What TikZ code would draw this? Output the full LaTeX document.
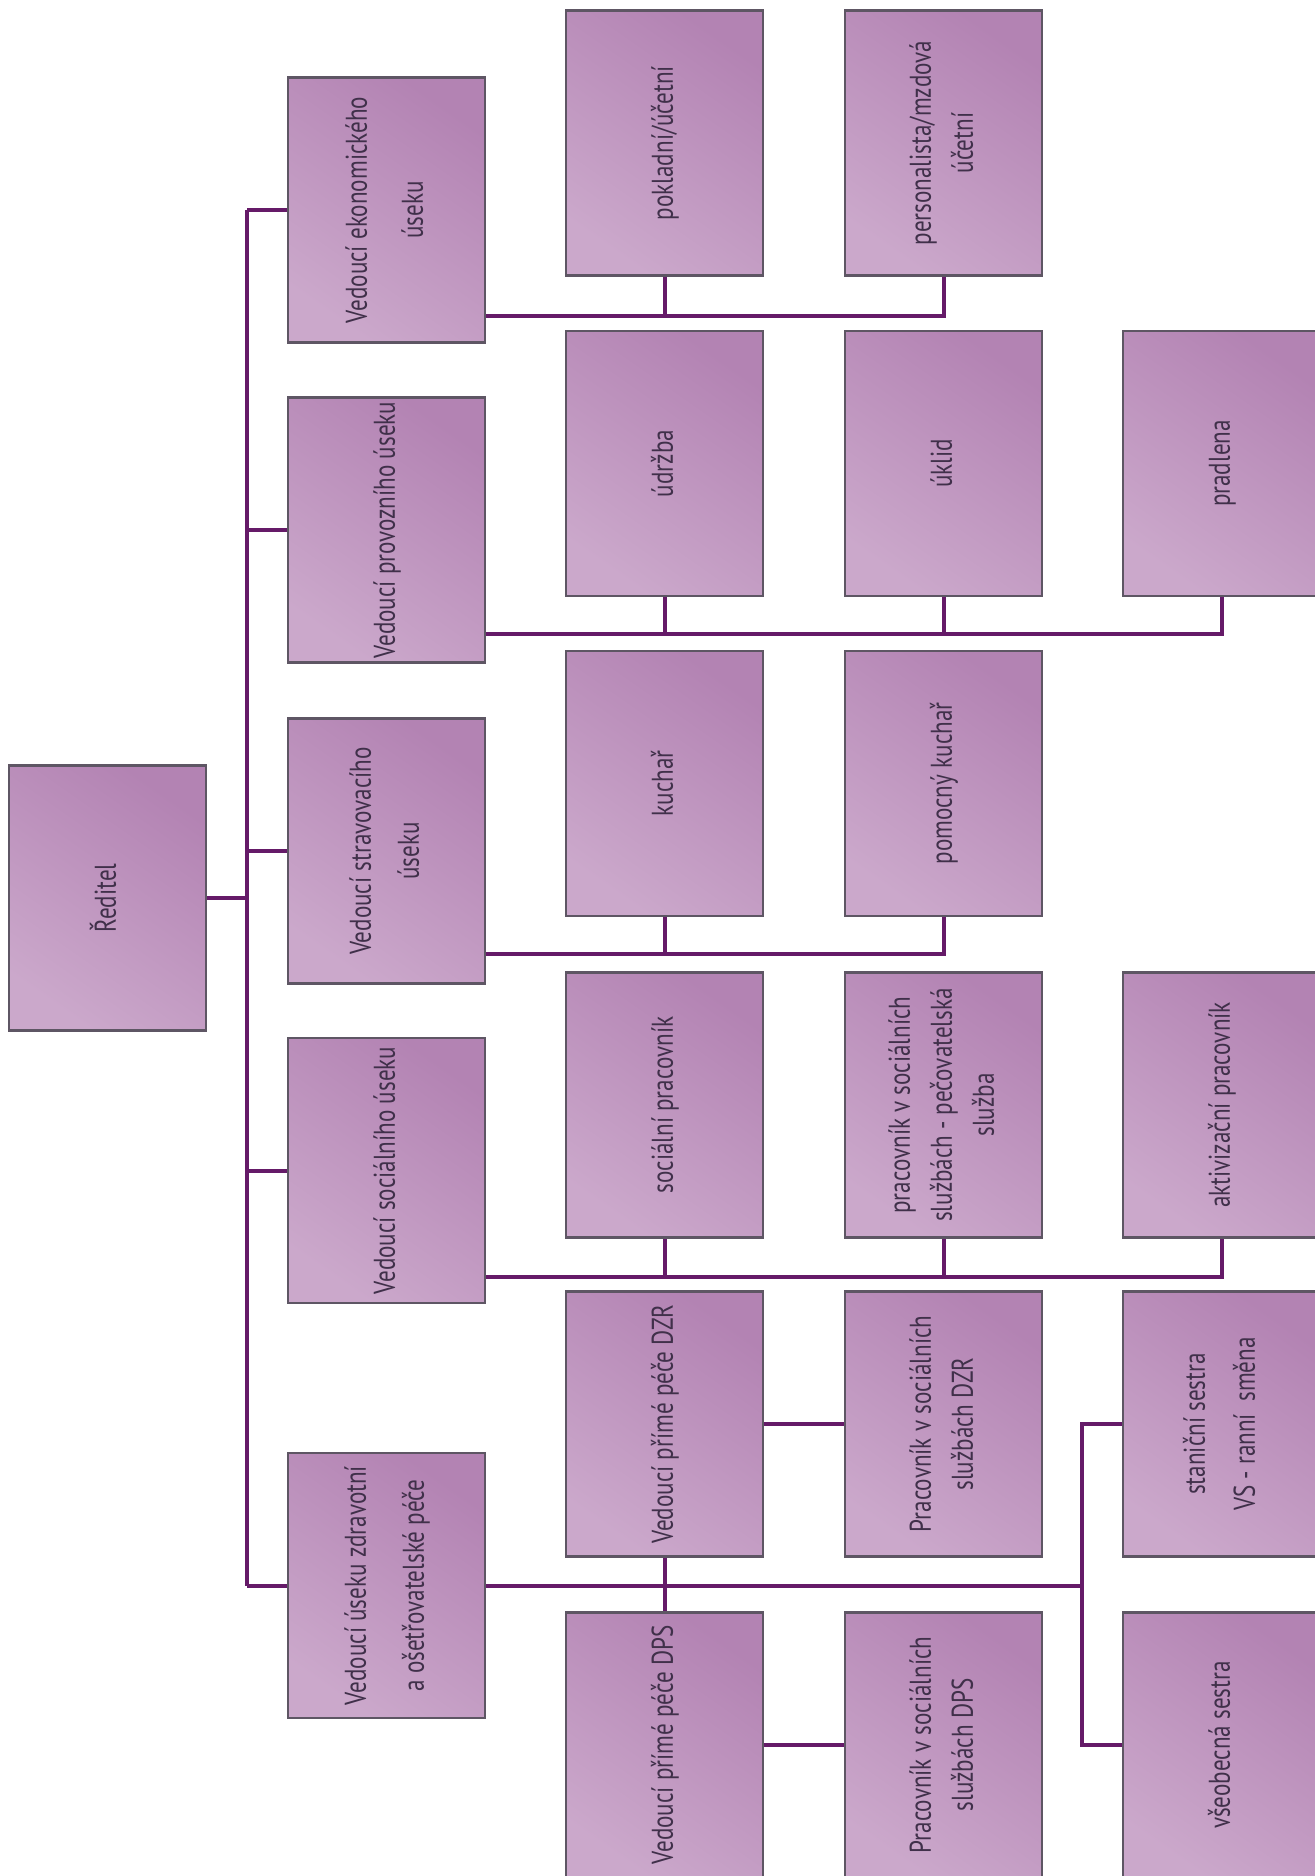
\documentclass[tikz,border=0pt]{standalone}
\usepackage{fontspec}
\setmainfont{PT Sans}[FakeStretch=0.77]
\usetikzlibrary{positioning,calc}

\definecolor{boxlight}{HTML}{CBA8CB}
\definecolor{boxdark}{HTML}{B383B3}
\definecolor{boxline}{HTML}{5E5664}
\definecolor{connline}{HTML}{651A68}
\definecolor{boxtext}{HTML}{40304A}

% vertical text inside a box
\newcommand{\vlabel}[1]{\rotatebox{90}{\begin{tabular}{@{}c@{}}#1\end{tabular}}}

\begin{document}
\begin{tikzpicture}[x=0.5pt,y=-0.5pt,
  box/.style={rectangle, draw=boxline, line width=1.2pt,
    bottom color=boxlight, top color=boxdark, shading angle=-35,
    minimum width=98.5pt, minimum height=132.5pt, inner sep=0pt,
    text=boxtext, font=\fontsize{15}{21}\selectfont},
  conn/.style={draw=connline, line width=2pt}]
\fill[white] (0,0) rectangle (1314,1876);
\useasboundingbox (0,0) rectangle (1314,1876);
% Director
\node[box] (red) at (107.5,898) {\vlabel{Ředitel}};
% Heads of sections
\node[box] (ekon)  at (386.5,210)    {\vlabel{Vedoucí ekonomického\\[7pt] úseku}};
\node[box] (prov)  at (386.5,530)    {\vlabel{Vedoucí provozního úseku}};
\node[box] (strav) at (386.5,851)    {\vlabel{Vedoucí stravovacího\\[3pt] úseku}};
\node[box] (soc)   at (386.5,1170.5) {\vlabel{Vedoucí sociálního úseku}};
\node[box] (zdrav) at (386.5,1585.5) {\vlabel{Vedoucí úseku zdravotní\\[8pt] a ošetřovatelské péče}};
% Economic section
\node[box] (pokl) at (664.5,143) {\vlabel{pokladní/účetní}};
\node[box] (pers) at (943.5,143) {\vlabel{personalista/mzdová\\ účetní}};
% Operations
\node[box] (udrz)  at (664.5,463.5)  {\vlabel{údržba}};
\node[box] (uklid) at (943.5,463.5)  {\vlabel{úklid}};
\node[box] (pradl) at (1221.5,463.5) {\vlabel{pradlena}};
% Catering
\node[box] (kuch)  at (664.5,783.5) {\vlabel{kuchař}};
\node[box] (pkuch) at (943.5,783.5) {\vlabel{pomocný kuchař}};
% Social section
\node[box] (socpr) at (664.5,1105)  {\vlabel{sociální pracovník}};
\node[box] (pecov) at (943.5,1105)  {\vlabel{pracovník v sociálních\\ službách - pečovatelská\\ služba}};
\node[box] (aktiv) at (1221.5,1105) {\vlabel{aktivizační pracovník}};
% Health and nursing care
\node[box] (dzr)   at (664.5,1424)  {\vlabel{Vedoucí přímé péče DZR}};
\node[box] (pdzr)  at (943.5,1424)  {\vlabel{Pracovník v sociálních\\ službách DZR}};
\node[box] (stan)  at (1221.5,1424) {\vlabel{staniční sestra\\[4pt] VS - ranní\ \ směna}};
\node[box] (dps)   at (664.5,1745)  {\vlabel{Vedoucí přímé péče DPS}};
\node[box] (pdps)  at (943.5,1745)  {\vlabel{Pracovník v sociálních\\ službách DPS}};
\node[box] (vseob) at (1221.5,1745) {\vlabel{všeobecná sestra}};
% Trunk from director
\coordinate (trunk) at (247,0);
\draw[conn] (red.east) -- (trunk |- red.east);
\draw[conn] (trunk |- ekon.west) -- (trunk |- zdrav.west);
\foreach \n in {ekon,prov,strav,soc,zdrav}
  \draw[conn] (trunk |- \n.west) -- (\n.west);
% Section buses
\coordinate (bus1) at (0,316);
\coordinate (bus2) at (0,634);
\coordinate (bus3) at (0,954);
\coordinate (bus4) at (0,1277);
\draw[conn] (ekon.east |- bus1) -| (pers.south);
\draw[conn] (pokl.south) -- (pokl.south |- bus1);
\draw[conn] (prov.east |- bus2) -| (pradl.south);
\foreach \n in {udrz,uklid}
  \draw[conn] (\n.south) -- (\n.south |- bus2);
\draw[conn] (strav.east |- bus3) -| (pkuch.south);
\draw[conn] (kuch.south) -- (kuch.south |- bus3);
\draw[conn] (soc.east |- bus4) -| (aktiv.south);
\foreach \n in {socpr,pecov}
  \draw[conn] (\n.south) -- (\n.south |- bus4);
% Care section
\coordinate (nbus) at (1082,0);
\draw[conn] (zdrav.east) -- (nbus |- zdrav.east);
\draw[conn] (dzr.south) -- (dps.north);
\draw[conn] (dzr.east) -- (pdzr.west);
\draw[conn] (dps.east) -- (pdps.west);
\draw[conn] (stan.west) -- (nbus |- stan.west) -- (nbus |- vseob.west) -- (vseob.west);
\end{tikzpicture}
\end{document}
